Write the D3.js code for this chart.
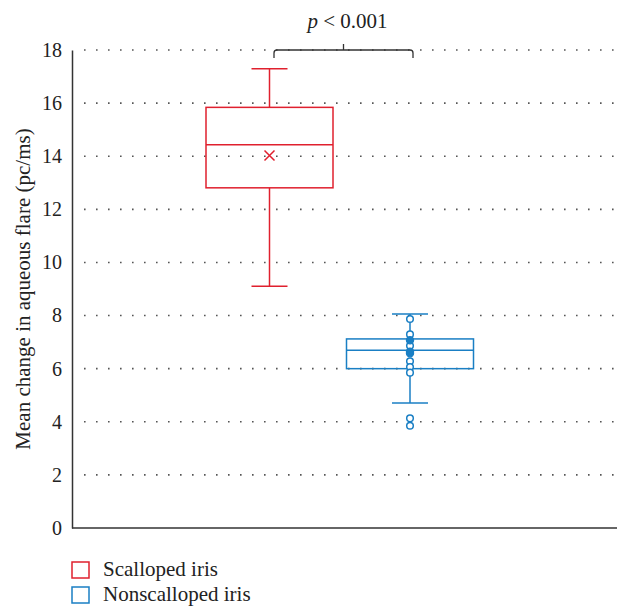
<!DOCTYPE html>
<html>
<head>
<meta charset="utf-8">
<script src="https://cdn.jsdelivr.net/npm/d3@7"></script>
<style>
  body { margin: 0; background: #fff; }
</style>
</head>
<body>
<div id="chart"></div>
<script>
// data
var groups = ["Scalloped iris", "Nonscalloped iris"];
var colors = ["#e0202e", "#1a7fc4"];
var whiskerLow = [9.1, 4.71];
var q1 = [12.81, 6.0];
var medians = [14.43, 6.69];
var q3 = [15.84, 7.12];
var whiskerHigh = [17.29, 8.06];
var means = [14.03, null];
// points drawn for the nonscalloped group (open) and filled ones
var bluePoints = [7.87, 7.29, 6.86, 6.28, 6.06, 5.85, 4.13, 3.85];
var blueFilled = [7.07, 6.64, 6.58];
var yTicks = [0, 2, 4, 6, 8, 10, 12, 14, 16, 18];
var yLabel = "Mean change in aqueous flare (pc/ms)";

var serif = "'Liberation Serif', 'Times New Roman', 'DejaVu Serif', serif";
var width = 620, height = 606;
var svg = d3.select("#chart").append("svg")
    .attr("width", width).attr("height", height);

var y = d3.scaleLinear().domain([0, 18]).range([528, 50]);
var x = d3.scalePoint().domain(groups).range([269.5, 410]);
var boxW = 127;

// dotted gridlines
yTicks.filter(function(d){ return d > 0; }).forEach(function(t){
    svg.append("line")
        .attr("x1", 84).attr("x2", 617)
        .attr("y1", y(t)).attr("y2", y(t))
        .attr("stroke", "#555")
        .attr("stroke-width", 1.6)
        .attr("stroke-dasharray", "1.6,10.4");
});

// axes
var yAxis = svg.append("g")
    .attr("transform", "translate(72,0)")
    .call(d3.axisLeft(y).tickValues(yTicks).tickSize(0).tickPadding(10));
yAxis.attr("font-family", null).attr("font-size", null);
yAxis.select(".domain").attr("stroke", "#333").attr("stroke-width", 1.5);
yAxis.selectAll("text")
    .style("font-family", serif)
    .style("font-size", "20px").attr("fill", "#222");

svg.append("line")
    .attr("x1", 72).attr("x2", 617)
    .attr("y1", y(0)).attr("y2", y(0))
    .attr("stroke", "#333").attr("stroke-width", 1.5);

svg.append("text")
    .attr("transform", "translate(30," + y(9) + ") rotate(-90)")
    .attr("text-anchor", "middle")
    .style("font-family", serif)
    .style("font-size", "21px")
    .attr("fill", "#222")
    .text(yLabel);

// boxes
groups.forEach(function(g, i){
    var cx = x(g), c = colors[i];
    var gg = svg.append("g").attr("stroke", c).attr("fill", "none").attr("stroke-width", 1.5);
    gg.append("line").attr("x1", cx).attr("x2", cx).attr("y1", y(whiskerHigh[i])).attr("y2", y(q3[i]));
    gg.append("line").attr("x1", cx).attr("x2", cx).attr("y1", y(q1[i])).attr("y2", y(whiskerLow[i]));
    gg.append("line").attr("x1", cx - 18).attr("x2", cx + 18).attr("y1", y(whiskerHigh[i])).attr("y2", y(whiskerHigh[i]));
    gg.append("line").attr("x1", cx - 18).attr("x2", cx + 18).attr("y1", y(whiskerLow[i])).attr("y2", y(whiskerLow[i]));
    gg.append("rect")
        .attr("x", cx - boxW / 2).attr("width", boxW)
        .attr("y", y(q3[i])).attr("height", y(q1[i]) - y(q3[i]));
    gg.append("line").attr("x1", cx - boxW / 2).attr("x2", cx + boxW / 2)
        .attr("y1", y(medians[i])).attr("y2", y(medians[i]));
    if (means[i] != null) {
        var my = y(means[i]);
        gg.append("path")
            .attr("d", "M" + (cx - 5) + "," + (my - 5) + "L" + (cx + 5) + "," + (my + 5) +
                       "M" + (cx + 5) + "," + (my - 5) + "L" + (cx - 5) + "," + (my + 5));
    }
});

// points of the nonscalloped group
var bx = x(groups[1]);
svg.selectAll("circle.open").data(bluePoints).enter().append("circle")
    .attr("class", "open")
    .attr("cx", bx).attr("cy", function(d){ return y(d); })
    .attr("r", 3.3)
    .attr("fill", "#fff").attr("stroke", colors[1]).attr("stroke-width", 1.5);
svg.selectAll("circle.fill").data(blueFilled).enter().append("circle")
    .attr("class", "fill")
    .attr("cx", bx).attr("cy", function(d){ return y(d); })
    .attr("r", 3.6)
    .attr("fill", colors[1]).attr("stroke", colors[1]).attr("stroke-width", 1.2);

// significance bracket
var bl = 274, br = 413, bt = 50;
svg.append("path")
    .attr("d", "M" + bl + "," + (bt + 8) + "L" + bl + "," + (bt + 3) + "Q" + bl + "," + bt + " " + (bl + 3) + "," + bt +
               "L" + (br - 3) + "," + bt + "Q" + br + "," + bt + " " + br + "," + (bt + 3) + "L" + br + "," + (bt + 8) +
               "M" + ((bl + br) / 2) + "," + bt + "L" + ((bl + br) / 2) + "," + (bt - 6))
    .attr("fill", "none").attr("stroke", "#333").attr("stroke-width", 1.3);

var pt = svg.append("text")
    .attr("x", (bl + br) / 2 + 4).attr("y", 28)
    .attr("text-anchor", "middle")
    .style("font-family", serif)
    .style("font-size", "21px")
    .attr("fill", "#222");
pt.append("tspan").style("font-style", "italic").text("p");
pt.append("tspan").text(" < 0.001");

// legend
groups.forEach(function(g, i){
    var ly = 562 + i * 25;
    svg.append("rect")
        .attr("x", 72).attr("y", ly).attr("width", 17).attr("height", 16)
        .attr("fill", "none").attr("stroke", colors[i]).attr("stroke-width", 1.5);
    svg.append("text")
        .attr("x", 103).attr("y", ly + 14)
        .style("font-family", serif)
        .style("font-size", "21px")
        .attr("fill", "#222")
        .text(g);
});
</script>
</body>
</html>
